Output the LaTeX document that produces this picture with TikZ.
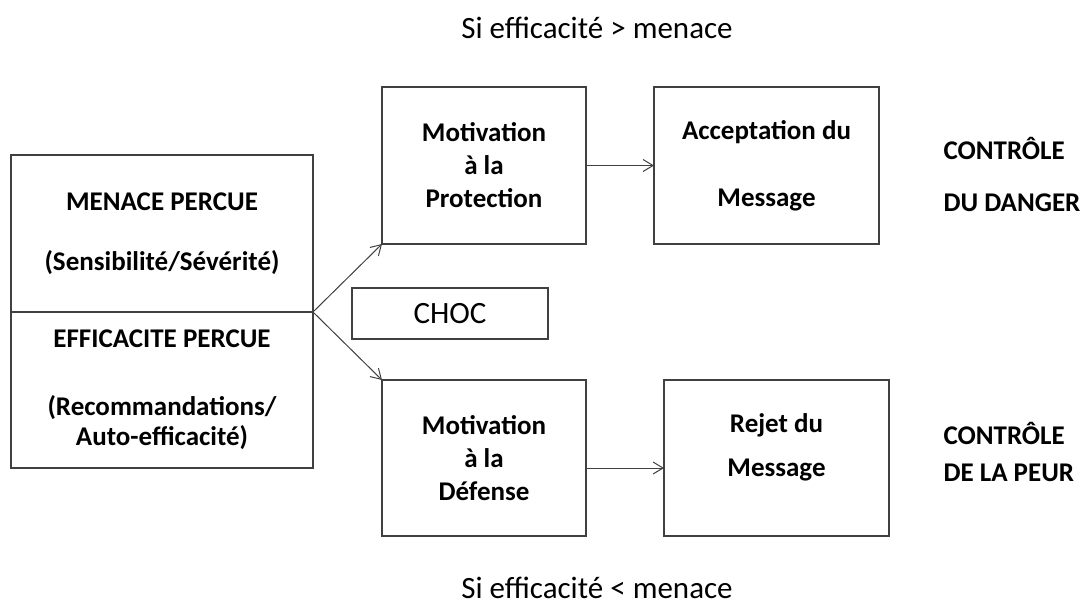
\documentclass[tikz,border=0pt]{standalone}
\usepackage{fontspec}
\setmainfont{Carlito}
\usetikzlibrary{arrows.meta, positioning}

\begin{document}
\begin{tikzpicture}[x=1pt, y=-1pt,
    box/.style={draw=black!75, line width=1.1pt, align=center, inner sep=0pt, outer sep=0pt,
                font=\fontsize{27}{32}\selectfont\bfseries},
    flow/.style={draw=black!75, line width=1pt, -{Straight Barb[length=10pt, width=12pt]}},
    side/.style={align=left, anchor=west, font=\fontsize{27}{32}\selectfont\bfseries},
    cond/.style={font=\fontsize{31}{36}\selectfont}]
    \useasboundingbox (0,0) rectangle (1085,611);

    % Left block: perceived threat and perceived efficacy
    \node[box, minimum width=302pt, minimum height=157pt] (menace) at (162,233.5)
        {MENACE PERCUE\\[28pt](Sensibilité/Sévérité)};
    \node[box, minimum width=302pt, minimum height=156pt, below=0pt of menace] (efficacite)
        {EFFICACITE PERCUE\\[36pt](Recommandations/\\[-2pt]Auto-efficacité)};

    % Middle column
    \node[box, minimum width=204pt, minimum height=157pt] (protection) at (484,165.5)
        {Motivation\\[1pt]à la\\[1pt]Protection};
    \node[box, font=\fontsize{31}{36}\selectfont, minimum width=196pt, minimum height=51pt] (choc) at (450,313.5) {CHOC};
    \node[box, minimum width=204pt, minimum height=156pt] (defense) at (484,458)
        {Motivation\\[1pt]à la\\[1pt]Défense};

    % Outcome boxes
    \node[box, minimum width=225pt, minimum height=157pt] (acceptation) at (766.5,165.5)
        {Acceptation du\\[35pt]Message};
    \node[box, minimum width=225pt, minimum height=156pt] (rejet) at (776.5,458) {};
    \node[align=center, font=\fontsize{27}{32}\selectfont\bfseries] (rejettxt) at (776.5,447)
        {Rejet du\\[12pt]Message};

    % Arrows
    \draw[flow] (menace.south east) -- (protection.south west);
    \draw[flow] (menace.south east) -- (defense.north west);
    \draw[flow] (protection.east) -- (acceptation.west);
    \draw[flow] ([yshift=-10pt]defense.east) -- ([yshift=-10pt]defense.east -| rejet.west);

    % Side labels
    \node[side] (danger) at (940,174) {CONTRÔLE\\[20pt]DU DANGER};
    \node[side] (peur) at (940,451.5) {CONTRÔLE\\[5pt]DE LA PEUR};

    % Conditions
    \node[cond] (plus) at (597,28) {Si efficacité > menace};
    \node[cond] (moins) at (597,588) {Si efficacité < menace};
\end{tikzpicture}
\end{document}
